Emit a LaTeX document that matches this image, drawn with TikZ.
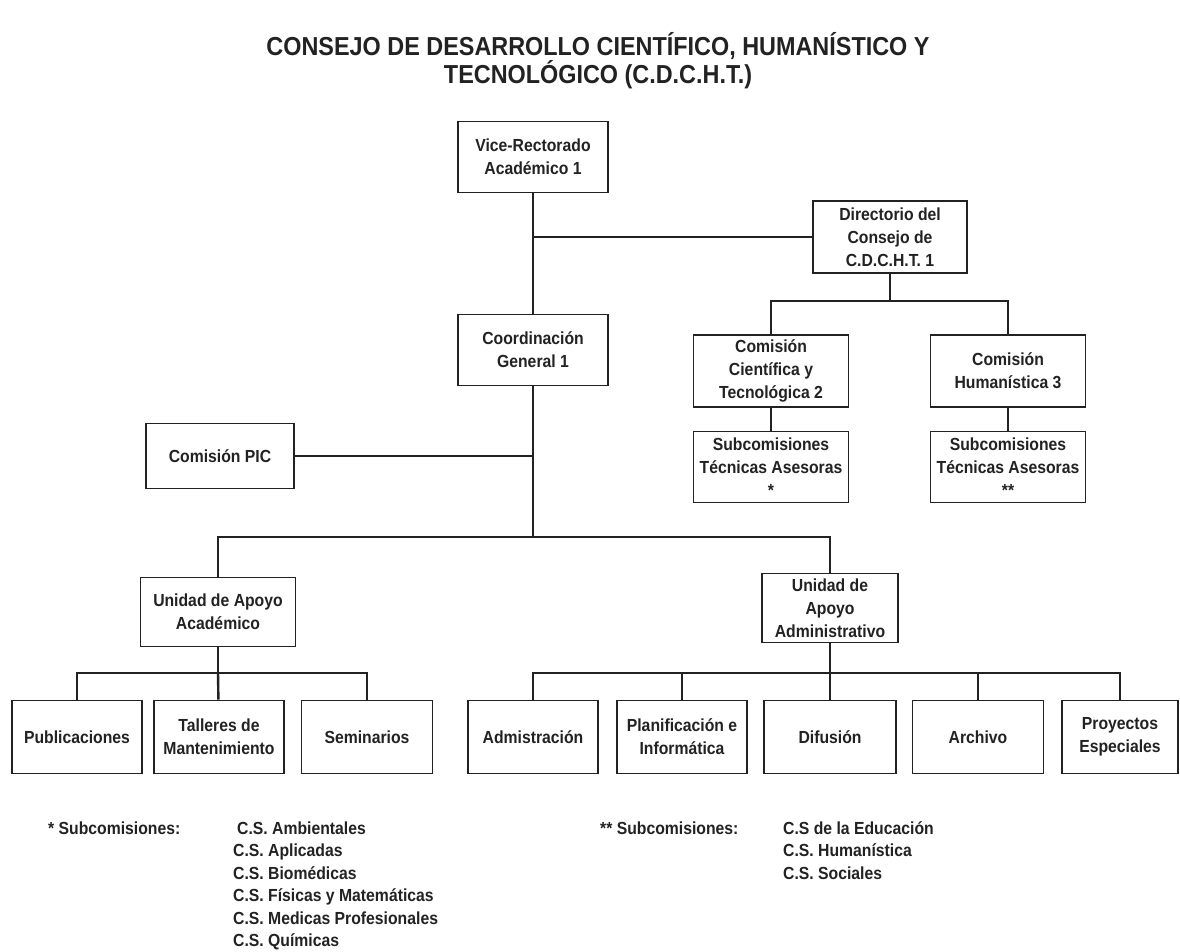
\documentclass[tikz,border=0pt]{standalone}
\usepackage{fontspec}
\setmainfont{Liberation Sans}[FakeStretch=0.9]
\definecolor{ink}{HTML}{222222}
\begin{document}
\begin{tikzpicture}[x=1pt, y=-1pt,
  every node/.style={text=ink, font=\bfseries\fontsize{17.5}{23}\selectfont},
  box/.style={draw=ink, line width=1.6pt, align=center, inner sep=0pt},
  leaf/.style={box, minimum width=130pt, minimum height=73pt},
  link/.style={draw=ink, line width=2.4pt},
  note/.style={anchor=base west, inner sep=0pt},
  title/.style={align=center, font=\bfseries\fontsize{26}{28}\selectfont}]
  \useasboundingbox (0,0) rectangle (1180,952);
  \node[title] (head) at (598,61) {CONSEJO DE DESARROLLO CIENTÍFICO, HUMANÍSTICO Y\\TECNOLÓGICO (C.D.C.H.T.)};

  \node[box, minimum width=150pt, minimum height=71pt] (vice) at (533,157) {Vice-Rectorado\\Académico 1};
  \node[box, minimum width=154pt, minimum height=72pt] (dir) at (890,237) {Directorio del\\Consejo de\\C.D.C.H.T. 1};
  \node[box, minimum width=150pt, minimum height=71pt] (coord) at (533,350) {Coordinación\\General 1};
  \node[box, minimum width=155pt, minimum height=72pt] (cient) at (771,371) {Comisión\\Científica y\\Tecnológica 2};
  \node[box, minimum width=155pt, minimum height=72pt] (hum) at (1008,371) {Comisión\\Humanística 3};
  \node[box, minimum width=155pt, minimum height=71pt] (subA) at (771,467) {Subcomisiones\\Técnicas Asesoras\\*};
  \node[box, minimum width=155pt, minimum height=71pt] (subB) at (1008,467) {Subcomisiones\\Técnicas Asesoras\\**};
  \node[box, minimum width=148pt, minimum height=65pt] (pic) at (220,456) {Comisión PIC};
  \node[box, minimum width=155pt, minimum height=69pt] (uaa) at (218,612) {Unidad de Apoyo\\Académico};
  \node[box, minimum width=136pt, minimum height=69pt] (uad) at (830,608) {Unidad de\\Apoyo\\Administrativo};

  \node[leaf] (pub) at (77,737) {Publicaciones};
  \node[leaf] (tal) at (219,737) {Talleres de\\Mantenimiento};
  \node[leaf, minimum width=131pt] (sem) at (367,737) {Seminarios};
  \node[leaf] (adm) at (533,737) {Admistración};
  \node[leaf] (pla) at (682,737) {Planificación e\\Informática};
  \node[leaf, minimum width=132pt] (dif) at (830,737) {Difusión};
  \node[leaf, minimum width=131pt] (arc) at (978,737) {Archivo};
  \node[leaf, minimum width=116pt] (pro) at (1120,737) {Proyectos\\Especiales};

  \coordinate (jd) at (890,301);
  \coordinate (jm) at (533,537);
  \coordinate (ja) at (218,673);
  \coordinate (jb) at (830,673);

  \draw[link] (vice) -- (coord);
  \draw[link] (dir.west) -- (dir.west -| vice.south);
  \draw[link] (dir) -- (jd);
  \draw[link] (cient) |- (jd) -| (hum);
  \draw[link] (cient) -- (subA);
  \draw[link] (hum) -- (subB);
  \draw[link] (coord) -- (jm);
  \draw[link] (pic) -- (pic -| coord);
  \draw[link] (uaa) |- (jm) -| (uad);
  \draw[link] (uaa) -- (ja);
  \draw[link] (pub) |- (ja) -| (sem);
  \draw[link] (tal) -- (ja);
  \draw[link] (uad) -- (jb);
  \draw[link] (adm) |- (jb) -| (pro);
  \draw[link] (pla) -- (pla |- jb);
  \draw[link] (dif) -- (jb);
  \draw[link] (arc) -- (arc |- jb);

  \node[note] (starA) at (48,834) {* Subcomisiones:};
  \node[note] (csA1) at (237,834) {C.S. Ambientales};
  \node[note] (csA2) at (233,856.5) {C.S. Aplicadas};
  \node[note] (csA3) at (233,879) {C.S. Biomédicas};
  \node[note] (csA4) at (233,901.5) {C.S. Físicas y Matemáticas};
  \node[note] (csA5) at (233,924) {C.S. Medicas Profesionales};
  \node[note] (csA6) at (233,946.5) {C.S. Químicas};
  \node[note] (starB) at (600,834) {** Subcomisiones:};
  \node[note] (csB1) at (783,834) {C.S de la Educación};
  \node[note] (csB2) at (783,856.5) {C.S. Humanística};
  \node[note] (csB3) at (783,879) {C.S. Sociales};
\end{tikzpicture}
\end{document}
